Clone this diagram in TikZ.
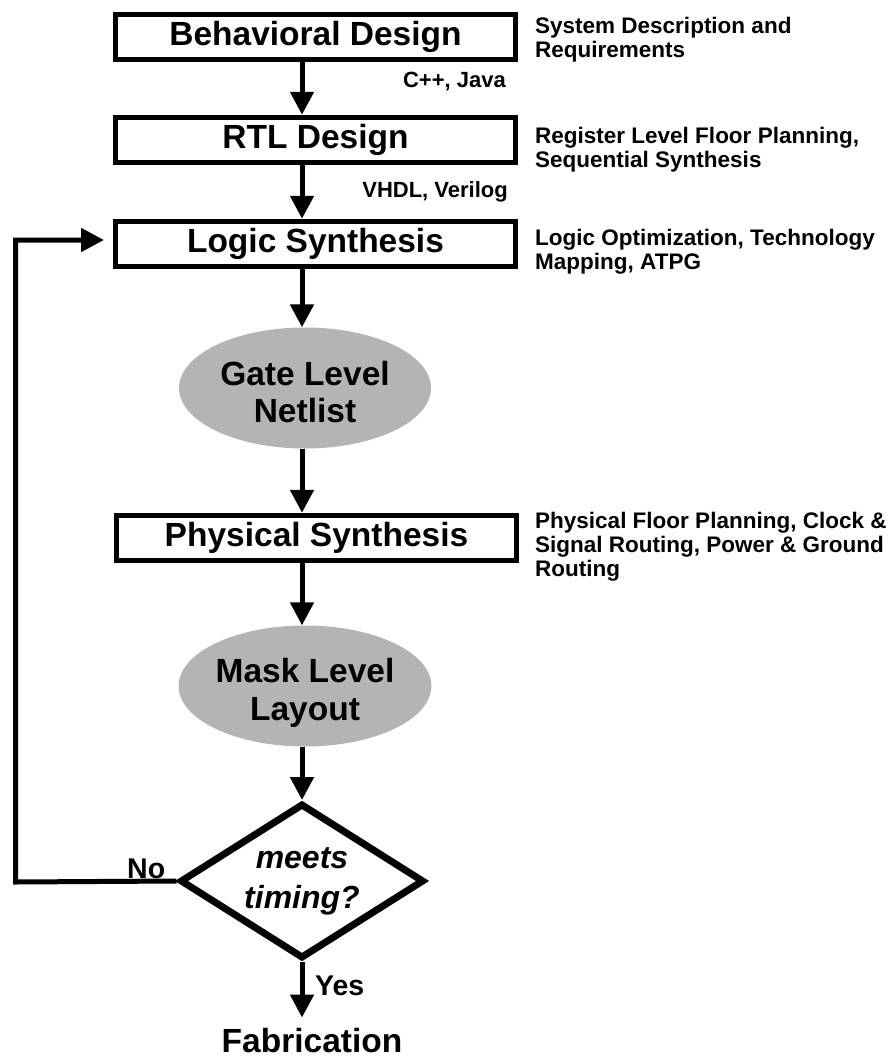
\documentclass[tikz,border=0pt]{standalone}
\usepackage{fontspec}
\setmainfont{Liberation Sans}
\usetikzlibrary{shapes.geometric,arrows.meta}
\definecolor{ovalgray}{RGB}{180,180,180}
\newcommand{\topstrut}[1]{\rule{0pt}{#1}}
\begin{document}
\begin{tikzpicture}[x=1pt,y=-1pt,
  box/.style={draw,line width=5.5pt,minimum width=400pt,minimum height=45pt,inner sep=0pt,font=\fontsize{33.5}{38}\selectfont\bfseries},
  oval/.style={ellipse,fill=ovalgray,minimum width=252pt,minimum height=121pt,inner sep=0pt,align=center,font=\fontsize{33.5}{37.5}\selectfont\bfseries},
  arr/.style={line width=5pt,-{Triangle[length=23pt,width=23pt]}},
  side/.style={anchor=north west,inner sep=0pt,align=left,font=\fontsize{22.5}{24}\selectfont\bfseries},
  lab/.style={inner sep=0pt,font=\fontsize{22}{24}\selectfont\bfseries},
  yn/.style={inner sep=0pt,anchor=base west,font=\fontsize{28.5}{32}\selectfont\bfseries}]
\useasboundingbox (0,0) rectangle (893,1057);
\coordinate (col) at (302,0);

\node[box] (behav) at (315.5,37) {Behavioral Design};
\node[box] (rtl) at (315.5,140) {RTL Design};
\node[box] (logic) at (315.5,244) {Logic Synthesis};
\node[oval] (gate) at (305,388) {\topstrut{32pt}Gate Level\\Netlist};
\node[box] (phys) at (316.5,538) {Physical Synthesis};
\node[oval] (mask) at (305,686) {\topstrut{38pt}Mask Level\\Layout};
\node[diamond,draw,line width=7pt,aspect=1.57,minimum width=244pt,minimum height=155pt,inner sep=0pt,align=center,font=\fontsize{32}{40}\selectfont\bfseries\itshape] (dec) at (302,881) {meets\\timing?};
\node[inner xsep=0pt,inner ysep=10pt,anchor=base,font=\fontsize{33.5}{38}\selectfont\bfseries] (fab) at (312,1052) {Fabrication};

\node[side] (s1) at (535,17) {System Description and\\Requirements};
\node[side] (s2) at (535,127) {Register Level Floor Planning,\\Sequential Synthesis};
\node[side] (s3) at (535,229) {Logic Optimization, Technology\\Mapping, ATPG};
\node[side] (s4) at (535,512) {Physical Floor Planning, Clock \&\\Signal Routing, Power \& Ground\\Routing};

\node[lab,anchor=base east] (l1) at (506,88) {C++, Java};
\node[lab,anchor=base east] (l2) at (508,197) {VHDL, Verilog};
\node[yn] (no) at (127,878) {No};
\node[yn] (yes) at (315,995) {Yes};

\draw[arr] (behav.south -| col) -- (rtl.north -| col);
\draw[arr] (rtl.south -| col) -- (logic.north -| col);
\draw[arr] (logic.south -| col) -- (gate.north -| col);
\draw[arr] (gate.south -| col) -- (phys.north -| col);
\draw[arr] (phys.south -| col) -- (mask.north -| col);
\draw[arr] (mask.south -| col) -- (dec.north);
\draw[arr] (dec.south) -- (fab.north -| col);

\coordinate (fb1) at (15.5,882);
\coordinate (fb2) at (15.5,240);
\coordinate (fb3) at (113,240);
\draw[line width=5pt,line join=miter,-{Triangle[length=23pt,width=23pt]},shorten >=9pt] (dec.west) -- (fb1) -- (fb2) -- (fb3);
\end{tikzpicture}
\end{document}
